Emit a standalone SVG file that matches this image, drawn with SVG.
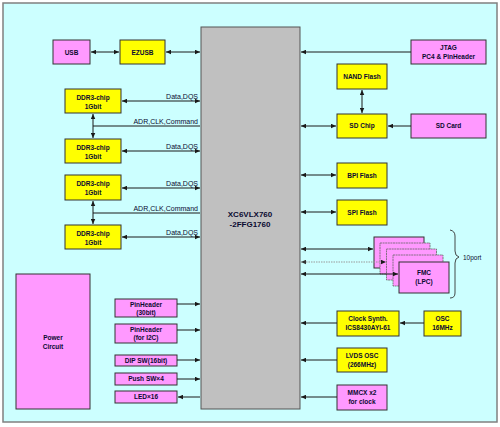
<svg xmlns="http://www.w3.org/2000/svg" width="500" height="427" viewBox="0 0 500 427">
<defs>
<marker id="ah" viewBox="0 0 10 10" refX="10" refY="5" markerWidth="6" markerHeight="5" markerUnits="userSpaceOnUse" orient="auto-start-reverse"><path d="M0,0.5 L10,5 L0,9.5 z" fill="#1a1a1a"/></marker>
<marker id="ahg" viewBox="0 0 10 10" refX="10" refY="5" markerWidth="6" markerHeight="5" markerUnits="userSpaceOnUse" orient="auto-start-reverse"><path d="M0,0.5 L10,5 L0,9.5 z" fill="#333"/></marker>
<style>
.y{fill:#FFFF00;stroke:#333;stroke-width:1}
.m{fill:#FF99FF;stroke:#333;stroke-width:1}
.md{fill:#FF99FF;stroke:#666;stroke-width:0.8;stroke-dasharray:2,0.6}
text{font-family:"Liberation Sans",Arial,sans-serif;fill:#0a0a30}
.b{font-weight:bold;font-size:6.5px;text-anchor:middle}
.l{font-size:7px;text-anchor:end}
.c line,.c path{stroke:#1a1a1a;stroke-width:1;fill:none}
.one{marker-end:url(#ah)}
.two{marker-start:url(#ah);marker-end:url(#ah)}
</style>
</defs>
<rect x="3" y="3" width="494" height="419" fill="#CCFFFF" stroke="#808080" stroke-width="1.5"/>

<g id="fpga"><rect x="201" y="27" width="99" height="382" fill="#C0C0C0" stroke="#555" stroke-width="1"/>
<text class="b" x="250" y="217" style="font-size:8px">XC6VLX760</text>
<text class="b" x="250" y="227" style="font-size:8px">-2FFG1760</text></g>

<g id="usb"><rect class="m" x="53" y="40" width="37" height="24"/><text class="b" x="71.5" y="54.5">USB</text></g>
<g id="ezusb"><rect class="y" x="120" y="40" width="45" height="24"/><text class="b" x="142.5" y="54.5">EZUSB</text></g>

<g id="ddr1"><rect class="y" x="65" y="89" width="56" height="24"/><text class="b" x="93" y="100">DDR3-chip</text><text class="b" x="93" y="109">1Gbit</text></g>
<g id="ddr2"><rect class="y" x="65" y="139" width="56" height="24"/><text class="b" x="93" y="150">DDR3-chip</text><text class="b" x="93" y="159">1Gbit</text></g>
<g id="ddr3"><rect class="y" x="65" y="175" width="56" height="25"/><text class="b" x="93" y="186">DDR3-chip</text><text class="b" x="93" y="195">1Gbit</text></g>
<g id="ddr4"><rect class="y" x="65" y="225" width="56" height="24"/><text class="b" x="93" y="236">DDR3-chip</text><text class="b" x="93" y="245">1Gbit</text></g>

<g id="power"><rect class="m" x="16" y="274" width="74" height="135"/><text class="b" x="53" y="339.5">Power</text><text class="b" x="53" y="348.5">Circuit</text></g>

<g id="ph30"><rect class="m" x="115" y="299" width="62" height="18"/><text class="b" x="146" y="306.5">PinHeader</text><text class="b" x="146" y="314.5">(30bit)</text></g>
<g id="phi2c"><rect class="m" x="115" y="324" width="62" height="19"/><text class="b" x="146" y="331.5">PinHeader</text><text class="b" x="146" y="339.5">(for I2C)</text></g>
<g id="dip"><rect class="m" x="115" y="355" width="62" height="11"/><text class="b" x="146" y="362.8">DIP SW(16bit)</text></g>
<g id="push"><rect class="m" x="115" y="373" width="62" height="12"/><text class="b" x="146" y="381.3">Push SW×4</text></g>
<g id="led"><rect class="m" x="115" y="391" width="62" height="12"/><text class="b" x="146" y="399.3">LED×16</text></g>

<g id="jtag"><rect class="m" x="411" y="40" width="75" height="24"/><text class="b" x="448.5" y="50">JTAG</text><text class="b" x="448.5" y="59">PC4 &amp; PinHeader</text></g>
<g id="nand"><rect class="y" x="337" y="64" width="50" height="25"/><text class="b" x="362" y="78.8">NAND Flash</text></g>
<g id="sdchip"><rect class="y" x="337" y="114" width="50" height="24"/><text class="b" x="362" y="128.3">SD Chip</text></g>
<g id="sdcard"><rect class="m" x="411" y="114" width="75" height="24"/><text class="b" x="448.5" y="128.3">SD Card</text></g>
<g id="bpi"><rect class="y" x="337" y="163" width="50" height="25"/><text class="b" x="362" y="177.8">BPI Flash</text></g>
<g id="spi"><rect class="y" x="337" y="200" width="50" height="25"/><text class="b" x="362" y="214.8">SPI Flash</text></g>

<g id="fmc">
<rect class="m" x="374" y="237" width="50" height="31"/>
<rect class="md" x="380" y="243" width="50" height="31"/>
<rect class="md" x="386.5" y="249" width="50" height="31"/>
<rect class="md" x="393" y="255" width="50" height="31"/>
<rect class="m" x="399" y="262" width="50" height="31"/>
<text class="b" x="424" y="275">FMC</text><text class="b" x="424" y="284">(LPC)</text>
</g>
<g id="brace"><path d="M450,230 Q455,231 455,236 L455,251 Q455,256 459,257 Q455,258 455,263 L455,293 Q455,298 450,298" fill="none" stroke="#333" stroke-width="0.9"/>
<text x="463" y="259.5" style="font-size:6.5px">10port</text></g>

<g id="clksynth"><rect class="y" x="337" y="311" width="62" height="25"/><text class="b" x="368" y="320.5">Clock Synth.</text><text class="b" x="368" y="329.5">ICS8430AYI-61</text></g>
<g id="osc"><rect class="y" x="424" y="311" width="37" height="25"/><text class="b" x="442.5" y="320.5">OSC</text><text class="b" x="442.5" y="329.5">16MHz</text></g>
<g id="lvds"><rect class="y" x="337" y="348" width="50" height="24"/><text class="b" x="362" y="357.5">LVDS OSC</text><text class="b" x="362" y="366.5">(266MHz)</text></g>
<g id="mmcx"><rect class="m" x="337" y="385" width="50" height="25"/><text class="b" x="362" y="394.5">MMCX x2</text><text class="b" x="362" y="403.5">for clock</text></g>

<g id="connectors" class="c">
<line class="two" x1="91" y1="52" x2="119" y2="52"/>
<line class="two" x1="166" y1="52" x2="200" y2="52"/>
<line class="two" x1="122" y1="101" x2="200" y2="101"/>
<line class="two" x1="122" y1="151" x2="200" y2="151"/>
<line class="two" x1="122" y1="188" x2="200" y2="188"/>
<line class="two" x1="122" y1="237" x2="200" y2="237"/>
<line class="two" x1="93" y1="114" x2="93" y2="138"/>
<line x1="93" y1="126" x2="200" y2="126"/>
<line class="two" x1="93" y1="201" x2="93" y2="224"/>
<line x1="93" y1="213" x2="200" y2="213"/>
<line class="one" x1="177" y1="304" x2="200" y2="304"/>
<line class="one" x1="177" y1="330" x2="200" y2="330"/>
<line class="one" x1="177" y1="360" x2="200" y2="360"/>
<line class="one" x1="177" y1="379" x2="200" y2="379"/>
<line class="one" x1="200" y1="397" x2="178" y2="397"/>
<line class="one" x1="411" y1="52" x2="301" y2="52"/>
<line class="two" x1="362" y1="90" x2="362" y2="113"/>
<line class="two" x1="301" y1="126" x2="336" y2="126"/>
<line class="one" x1="411" y1="126" x2="388" y2="126"/>
<line class="two" x1="301" y1="175" x2="336" y2="175"/>
<line class="two" x1="301" y1="212" x2="336" y2="212"/>
<line class="two" x1="301" y1="249" x2="373" y2="249"/>
<line x1="301" y1="262" x2="386" y2="262" style="stroke:#999;stroke-dasharray:1.5,1;marker-start:url(#ahg);marker-end:url(#ah)"/>
<line class="two" x1="301" y1="274" x2="398" y2="274"/>
<line class="one" x1="337" y1="323" x2="301" y2="323"/>
<line class="one" x1="424" y1="323" x2="400" y2="323"/>
<line class="one" x1="337" y1="360" x2="301" y2="360"/>
<line class="one" x1="337" y1="397" x2="301" y2="397"/>
</g>
<g id="labels">
<text class="l" x="198" y="99">Data,DQS</text>
<text class="l" x="198" y="124">ADR,CLK,Command</text>
<text class="l" x="198" y="149">Data,DQS</text>
<text class="l" x="198" y="186">Data,DQS</text>
<text class="l" x="198" y="211">ADR,CLK,Command</text>
<text class="l" x="198" y="235">Data,DQS</text>
</g>
</svg>
